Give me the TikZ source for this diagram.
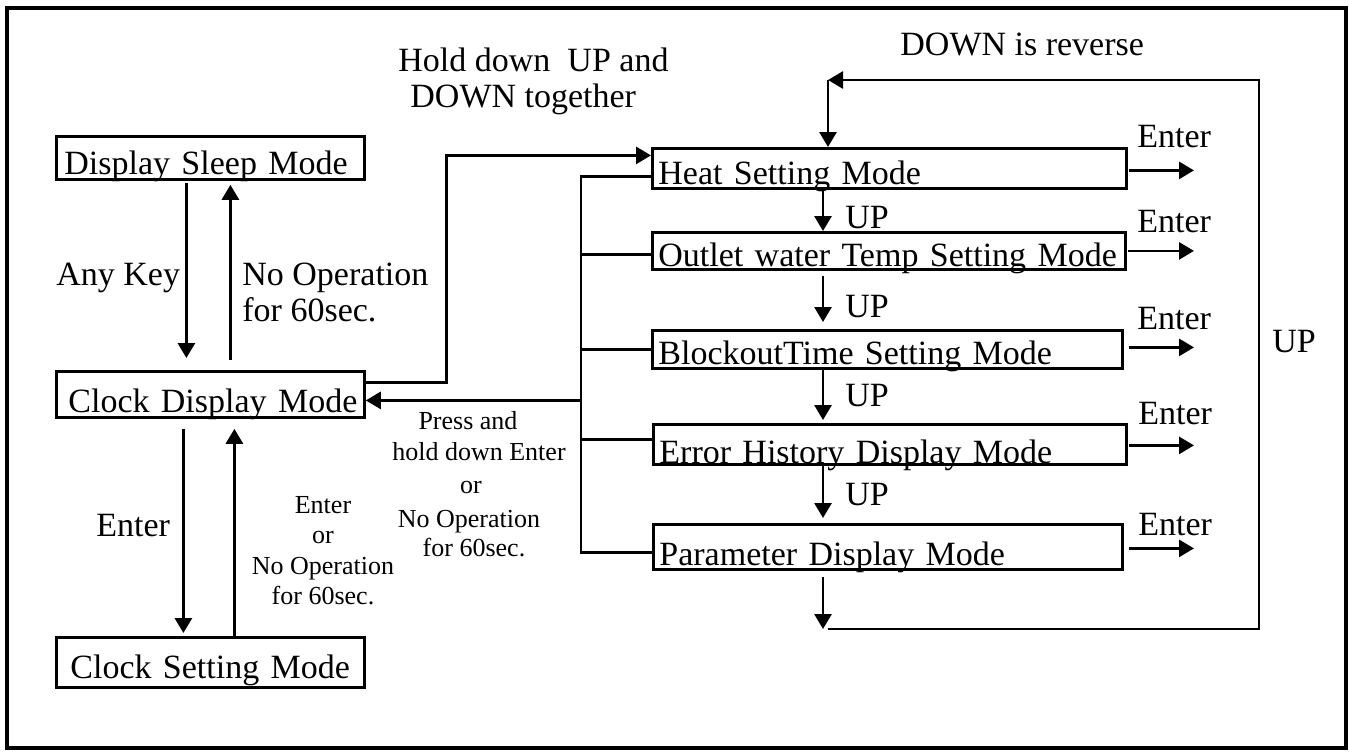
\documentclass[tikz,border=0pt]{standalone}
\usepackage{fontspec}
\setmainfont{Liberation Serif}
\usetikzlibrary{arrows.meta}
\newcommand\bigtxt{\fontsize{17}{20}\selectfont}
\newcommand\smalltxt{\fontsize{13}{15.5}\selectfont}
\begin{document}
\begin{tikzpicture}[x=0.5pt,y=-0.5pt,
  modebox/.style={draw, line width=1.4pt, inner ysep=0pt, anchor=north west, align=left, font=\bigtxt},
  arr/.style={line width=1.4pt, -{Triangle[length=7.5pt,width=8.5pt]}},
  conn/.style={line width=1.4pt},
  lbl/.style={anchor=base west, inner sep=0pt, font=\bigtxt},
  slbl/.style={anchor=base, inner sep=0pt, font=\smalltxt}]
\useasboundingbox (0,0) rectangle (1349,751);
\draw[line width=1.6pt] (7,8) rectangle (1346,748);

% left column
\node[modebox, inner xsep=4pt, text width=146pt, text height=19pt, text depth=2.5pt] (sleep) at (55,135) {\mbox{Display Sleep Mode}};
\node[modebox, inner xsep=6pt, text width=142pt, text height=20.5pt, text depth=2.5pt] (clockdisp) at (55,370) {\mbox{Clock Display Mode}};
\node[modebox, inner xsep=7pt, text width=140pt, text height=20.5pt, text depth=4.5pt] (clockset) at (55,636) {\mbox{Clock Setting Mode}};

% right column
\node[modebox, inner xsep=3pt, text width=231pt, text height=18pt, text depth=2pt] (heat) at (651,147) {\mbox{Heat Setting Mode}};
\node[modebox, inner xsep=3pt, text width=230.5pt, text height=17pt, text depth=1.5pt] (outlet) at (651,231) {\mbox{Outlet water Temp Setting Mode}};
\node[modebox, inner xsep=3pt, text width=229pt, text height=17pt, text depth=2pt] (block) at (651,329) {\mbox{BlockoutTime Setting Mode}};
\node[modebox, inner xsep=3pt, text width=230.5pt, text height=19.5pt, text depth=0.5pt] (error) at (652,423) {\mbox{Error History Display Mode}};
\node[modebox, inner xsep=3pt, text width=228.5pt, text height=20.5pt, text depth=2pt] (param) at (652,523) {\mbox{Parameter Display Mode}};

% sleep <-> clock display
\draw[arr, shorten <=1pt, shorten >=6pt] ([xshift=-12pt]sleep.south) -- ([xshift=-12pt]sleep.south |- clockdisp.north);
\draw[arr, shorten <=5pt, shorten >=2pt] ([xshift=10pt]sleep.south |- clockdisp.north) -- ([xshift=10pt]sleep.south);
\node[lbl] (anykey) at (56,285) {Any Key};
\node[lbl] (noop1) at (242,285) {No Operation};
\node[lbl] (noop1b) at (242,321) {for 60sec.};

% clock display <-> clock setting
\draw[arr, shorten <=5pt, shorten >=1.5pt] ([xshift=-13.5pt]clockdisp.south) -- ([xshift=-13.5pt]clockdisp.south |- clockset.north);
\draw[arr, shorten >=5pt] ([xshift=12pt]clockdisp.south |- clockset.north) -- ([xshift=12pt]clockdisp.south);
\node[lbl] (enterl) at (96,536) {Enter};
\node[slbl] (s1a) at (323,513) {Enter};
\node[slbl] (s1b) at (323,543) {or};
\node[slbl] (s1c) at (323,574) {No Operation};
\node[slbl] (s1d) at (323,604) {for 60sec.};

% clock display -> heat
\draw[arr] ([yshift=6pt]clockdisp.east) -- ++(81,0) |- ([yshift=6.5pt]heat.west);
\node[lbl] (hold1) at (398,71) {Hold down\ \ UP and};
\node[lbl] (hold2) at (410,107) {DOWN together};

% bus back to clock display
\coordinate (bus) at (581,0);
\draw[conn] ([yshift=-4pt]heat.west) -| ([yshift=-2.75pt]param.west -| bus) -- ([yshift=-2.75pt]param.west);
\coordinate (bo) at ([yshift=-1.75pt]outlet.west);
\draw[conn] (bo) -- (bo -| bus);
\coordinate (bb) at (block.west);
\draw[conn] (bb) -- (bb -| bus);
\coordinate (be) at ([yshift=2.5pt]error.west);
\draw[conn] (be) -- (be -| bus);
\coordinate (inb) at ([yshift=-3pt]clockdisp.east);
\draw[arr] (bus |- inb) -- (inb);
\node[slbl] (p1) at (468,429) {Press and};
\node[slbl] (p2) at (479,460) {hold down Enter};
\node[slbl] (p3) at (471,493) {or};
\node[slbl] (p4) at (469,527) {No Operation};
\node[slbl] (p5) at (474,556) {for 60sec.};

% UP chain
\coordinate (upx) at (823,0);
\draw[arr] (heat.south -| upx) -- (outlet.north -| upx);
\draw[arr, shorten <=2.5pt, shorten >=3.5pt] (outlet.south -| upx) -- (block.north -| upx);
\draw[arr, shorten >=1.5pt] (block.south -| upx) -- (error.north -| upx);
\draw[arr, shorten >=2.5pt] (error.south -| upx) -- (param.north -| upx);
\node[lbl] (up1) at (845,228) {UP};
\node[lbl] (up2) at (845,317) {UP};
\node[lbl] (up3) at (845,406) {UP};
\node[lbl] (up4) at (845,505) {UP};

% loop
\coordinate (lb) at (828,629);
\coordinate (rb) at (1259,629);
\coordinate (rt) at (1259,80);
\coordinate (lt) at (828,80);
\draw[arr, shorten <=3pt] (param.south -| upx) -- (upx |- lb);
\draw[arr] (lb) -- (rb) -- (rt) -- (lt);
\draw[arr] (lt) -- (heat.north -| lt);
\node[lbl] (upr) at (1272,352) {UP};
\node[lbl] (downrev) at (900,55) {DOWN is reverse};

% Enter outputs
\coordinate (ent) at (1194,0);
\coordinate (e1) at ([xshift=0.5pt,yshift=-1pt]heat.east);
\draw[arr] (e1) -- (e1 -| ent);
\coordinate (e2) at ([xshift=0.5pt]outlet.east);
\draw[arr] (e2) -- (e2 -| ent);
\coordinate (e3) at ([xshift=2.5pt,yshift=1pt]block.east);
\draw[arr] (e3) -- (e3 -| ent);
\coordinate (e4) at ([xshift=0.5pt,yshift=-0.5pt]error.east);
\draw[arr] (e4) -- (e4 -| ent);
\coordinate (e5) at ([xshift=2.5pt,yshift=-0.75pt]param.east);
\draw[arr] (e5) -- (e5 -| ent);
\node[lbl] (en1) at (1137,147) {Enter};
\node[lbl] (en2) at (1137,232) {Enter};
\node[lbl] (en3) at (1137,329) {Enter};
\node[lbl] (en4) at (1138,424) {Enter};
\node[lbl] (en5) at (1138,535) {Enter};
\end{tikzpicture}
\end{document}
